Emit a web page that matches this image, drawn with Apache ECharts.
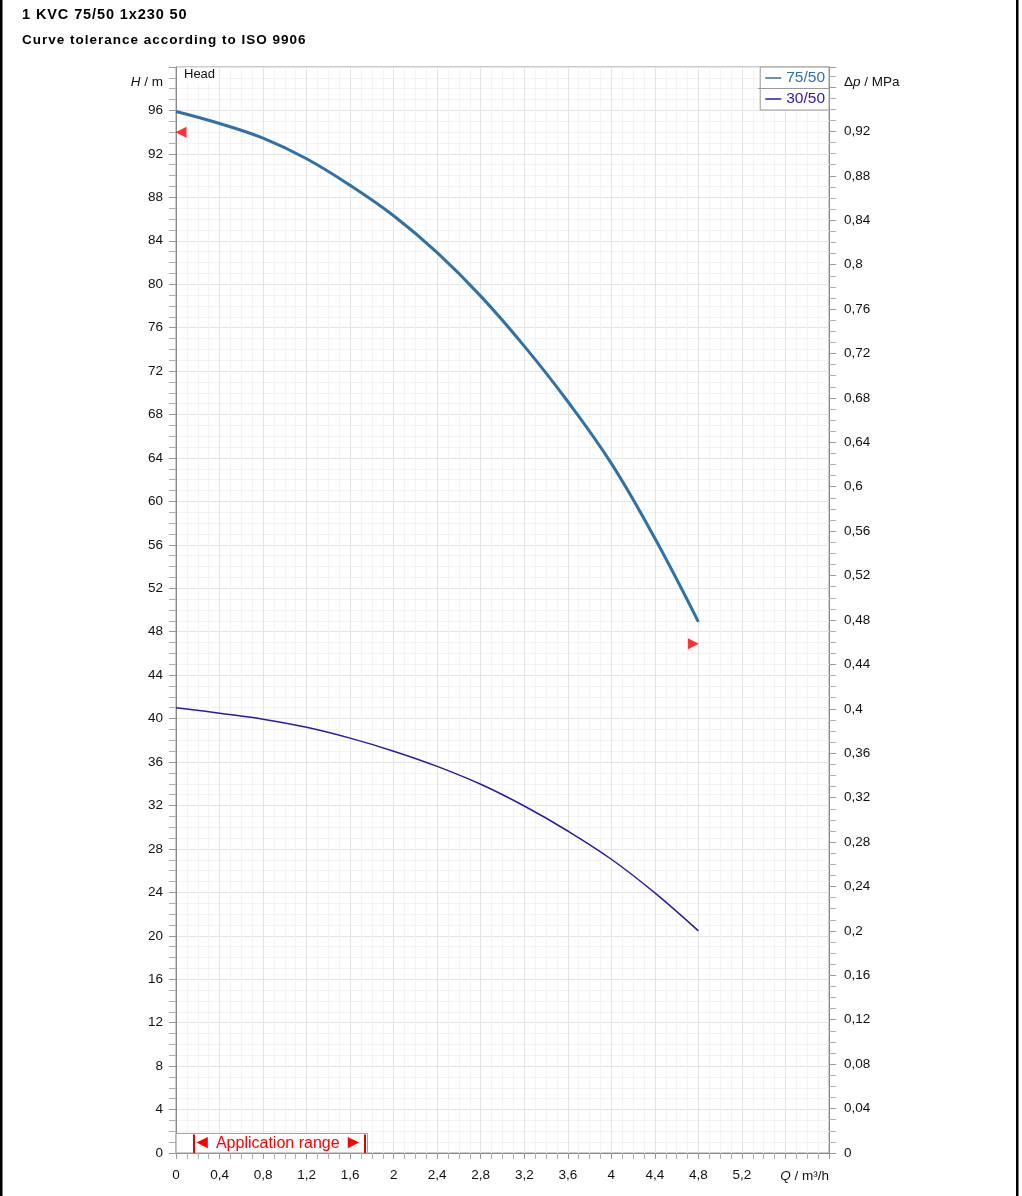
<!DOCTYPE html>
<html>
<head>
<meta charset="utf-8">
<script src="https://cdn.jsdelivr.net/npm/echarts@6/dist/echarts.min.js"></script>
<style>
  html, body { margin: 0; padding: 0; background: #fff; }
  #main { width: 1022px; height: 1196px; }
  .ttl { position: absolute; left: 22px; font-family: 'Liberation Sans', Arial, sans-serif; font-weight: bold; color: #000; white-space: nowrap; }
</style>
</head>
<body>
<div id="main"></div>
<div class="ttl" style="top:6px;font-size:14.5px;letter-spacing:0.9px">1 KVC 75/50 1x230 50</div>
<div class="ttl" style="top:32px;font-size:13.5px;letter-spacing:1px">Curve tolerance according to ISO 9906</div>

<script type="text/javascript">
  // flow Q (m3/h) and head H (m)
  var flow = [0, 0.4, 0.8, 1.2, 1.6, 2.0, 2.4, 2.8, 3.2, 3.6, 4.0, 4.4, 4.8];
  var head7550 = [95.9, 94.8, 93.45, 91.55, 89.1, 86.3, 82.9, 78.9, 74.3, 69.2, 63.5, 56.6, 48.9];
  var head3050 = [41.0, 40.5, 39.95, 39.2, 38.2, 37.0, 35.6, 33.95, 31.95, 29.65, 27.05, 23.95, 20.45];

  // tolerance markers (Q, H)
  var tolLeft = [0, 94.0];
  var tolRight = [4.8, 46.9];

  // application range: bars at Q, box to Q / H
  var appRange = [0.16, 1.73];
  var appBox = [0, 1.76, 1.8];

  var font = "'Liberation Sans', Arial, sans-serif";
  var blue = '#3170a8';
  var purple = '#3614a8';

  function pairs(xs, ys) {
    return xs.map(function (x, i) { return [x, ys[i]]; });
  }
  function comma(v, d) {
    var f = Math.pow(10, d);
    return String(Math.round(v * f) / f).replace('.', ',');
  }

  var myChart = echarts.init(document.getElementById('main'));

  var italic = { i: { fontStyle: 'italic', fontSize: 13.5, fontFamily: font } };

  var option = {
    animation: false,
    backgroundColor: '#fff',
    textStyle: { fontFamily: font },
    grid: {
      left: 176, right: 193, top: 67, bottom: 43,
      show: true, borderColor: '#9a9a9a', borderWidth: 1,
      outerBoundsMode: 'none'
    },
    legend: {
      orient: 'vertical', right: 193, top: 67,
      itemGap: 3, padding: [2, 4, 2, 5],
      borderColor: '#9a9a9a', borderWidth: 1, backgroundColor: '#fff',
      icon: 'rect', itemWidth: 16, itemHeight: 1.5,
      textStyle: { fontSize: 15.5, fontFamily: font, lineHeight: 18 },
      data: [
        { name: '75/50', textStyle: { color: blue } },
        { name: '30/50', textStyle: { color: purple } }
      ]
    },
    xAxis: {
      type: 'value', min: 0, max: 6, interval: 0.4,
      axisLine: { lineStyle: { color: '#8a8a8a' } },
      axisTick: { length: 6, lineStyle: { color: '#9a9a9a' } },
      minorTick: { show: true, splitNumber: 4, length: 6, lineStyle: { color: '#b0b0b0' } },
      splitLine: { show: true, lineStyle: { color: '#e4e4e4' } },
      minorSplitLine: { show: true, lineStyle: { color: '#f3f3f3' } },
      axisLabel: {
        margin: 15, fontSize: 13.5, color: '#111',
        formatter: function (v) { return v > 5.3 ? '' : comma(v, 1); }
      }
    },
    yAxis: [{
      type: 'value', min: 0, max: 100, interval: 4, position: 'left',
      axisLine: { show: true, lineStyle: { color: '#8a8a8a' } },
      axisTick: { show: true, length: 7, lineStyle: { color: '#9a9a9a' } },
      minorTick: { show: true, splitNumber: 4, length: 7, lineStyle: { color: '#b0b0b0' } },
      splitLine: { show: true, lineStyle: { color: '#e4e4e4' } },
      minorSplitLine: { show: true, lineStyle: { color: '#f3f3f3' } },
      axisLabel: {
        margin: 13, fontSize: 13.5, color: '#111',
        formatter: function (v) { return v > 97 ? '' : String(Math.round(v)); }
      }
    }, {
      type: 'value', min: 0, max: 0.978, interval: 0.04, position: 'right',
      axisLine: { show: true, lineStyle: { color: '#8a8a8a' } },
      axisTick: { show: true, length: 7, lineStyle: { color: '#9a9a9a' } },
      minorTick: { show: true, splitNumber: 4, length: 7, lineStyle: { color: '#b0b0b0' } },
      splitLine: { show: false },
      axisLabel: {
        margin: 15, fontSize: 13.5, color: '#111',
        formatter: function (v) { return v > 0.93 ? '' : comma(v, 2); }
      }
    }],
    graphic: [
      { type: 'text', left: 180, top: 68, z: 50, style: { text: 'Head', font: '13px ' + font, fill: '#111', backgroundColor: '#fff', padding: [0, 4, 2, 4] } },
      { type: 'text', x: 163, y: 82, style: { text: '{i|H} / m', align: 'right', verticalAlign: 'middle', fill: '#111', font: '13.5px ' + font, rich: italic } },
      { type: 'text', x: 844, y: 82, style: { text: '\u0394{i|p} / MPa', align: 'left', verticalAlign: 'middle', fill: '#111', font: '13.5px ' + font, rich: italic } },
      { type: 'text', x: 829, y: 1176, style: { text: '{i|Q} / m\u00b3/h', align: 'right', verticalAlign: 'middle', fill: '#111', font: '13.5px ' + font, rich: italic } },
      { type: 'line', shape: { x1: 758, y1: 88.5, x2: 829, y2: 88.5 }, style: { stroke: '#9a9a9a', lineWidth: 1 }, z: 100 },
      { type: 'rect', shape: { x: 0, y: 0, width: 2.5, height: 1196 }, style: { fill: '#000' } },
      { type: 'rect', shape: { x: 1016, y: 0, width: 2.5, height: 1196 }, style: { fill: '#000' } }
    ],
    series: [{
      name: '75/50', type: 'line', yAxisIndex: 0,
      data: pairs(flow, head7550),
      smooth: 0.4, showSymbol: false,
      color: blue, lineStyle: { width: 3, color: blue }
    }, {
      name: '30/50', type: 'line', yAxisIndex: 0,
      data: pairs(flow, head3050),
      smooth: 0.4, showSymbol: false,
      color: purple, lineStyle: { width: 1.5, color: purple }
    }, {
      name: 'tolL', type: 'scatter', yAxisIndex: 0,
      data: [tolLeft], symbol: 'triangle', symbolSize: 11,
      symbolRotate: 90, symbolOffset: [5, 0],
      itemStyle: { color: '#ff0000' }, z: 5
    }, {
      name: 'tolR', type: 'scatter', yAxisIndex: 0,
      data: [tolRight], symbol: 'triangle', symbolSize: 11,
      symbolRotate: -90, symbolOffset: [-5, 0],
      itemStyle: { color: '#ff0000' }, z: 5
    }, {
      name: 'range', type: 'line', yAxisIndex: 0,
      data: [[appRange[0], 0], [appRange[1], 0]],
      showSymbol: false, lineStyle: { width: 0, opacity: 0 }, silent: true,
      markArea: {
        silent: true,
        itemStyle: { color: 'rgba(255,255,255,0.85)', borderColor: '#a0a0a0', borderWidth: 1 },
        label: {
          show: true, position: 'inside', offset: [6, 0], color: '#ff0000', fontSize: 16, fontFamily: font,
          formatter: '{a|\u25c4} Application range {a|\u25ba}',
          rich: { a: { fontSize: 19, color: '#ff0000', fontFamily: font } }
        },
        data: [[{ coord: [appBox[0], 0] }, { coord: [appBox[1], appBox[2]] }]]
      },
      markLine: {
        silent: true, symbol: ['none', 'none'],
        lineStyle: { color: '#e00000', width: 2, type: 'solid' },
        label: { show: false },
        data: [
          [{ coord: [appRange[0], 0] }, { coord: [appRange[0], 1.7] }],
          [{ coord: [appRange[1], 0] }, { coord: [appRange[1], 1.7] }]
        ]
      }
    }]
  };

  myChart.setOption(option);
</script>
</body>
</html>
